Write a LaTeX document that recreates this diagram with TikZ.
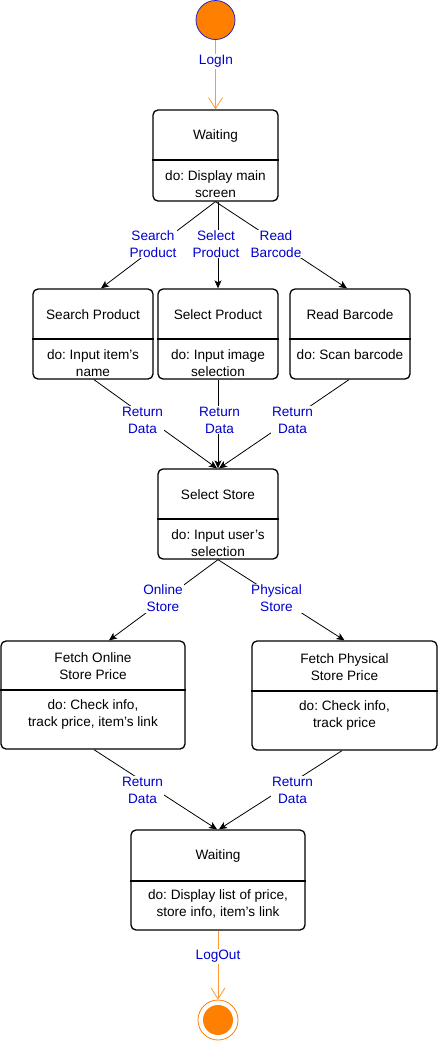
\documentclass[tikz,border=0pt]{standalone}
\usepackage{fontspec}
\setmainfont{Liberation Sans}
\usetikzlibrary{arrows.meta,calc}
\definecolor{lblue}{HTML}{0000CC}
\definecolor{orfill}{HTML}{FF8000}
\definecolor{orline}{HTML}{FF9933}
\definecolor{cblue}{HTML}{2222CC}
\newcommand{\ap}{{\char39}}
\frenchspacing
\begin{document}
\begin{tikzpicture}[x=1pt,y=-1pt,
 statebox/.style={draw,line width=1.3pt,rounded corners=5pt,inner sep=0pt,fill=white},
 divline/.style={line width=1.3pt},
 txt/.style={font=\fontsize{13.6}{17}\selectfont\frenchspacing,align=center,inner sep=0pt},
 lbl/.style={txt,text=lblue,fill=white,inner sep=1pt},
 conn/.style={draw,line width=0.8pt,-{Stealth[length=8pt,width=7pt,inset=2pt]}},
 oconn/.style={draw=orline,line width=0.8pt,-{Straight Barb[length=11pt,width=14pt]}},
]
\useasboundingbox (0,0) rectangle (438,1042);

% initial and final states
\node[circle,draw=cblue,fill=orfill,line width=0.8pt,minimum size=39pt,inner sep=0pt] (start) at (215.5,20) {};
\node[circle,draw=orfill,line width=0.8pt,minimum size=40pt,inner sep=0pt] (endc) at (218,1020) {};
\node[circle,fill=orfill,minimum size=30pt,inner sep=0pt] (endin) at (218,1020) {};

% state boxes
\node[statebox,minimum width=125pt,minimum height=91pt] (w1) at (215.5,155.5) {};
\draw[divline] (w1.west |- 0,160) -- (w1.east |- 0,160);
\node[txt] (w1t) at (215.5,135.5) {Waiting};
\node[txt] (w1b) at (215.5,184) {do: Display main\\screen};

\node[statebox,minimum width=120pt,minimum height=90pt] (sp) at (93,334) {};
\draw[divline] (sp.west |- 0,339) -- (sp.east |- 0,339);
\node[txt] (spt) at (93,314.5) {Search Product};
\node[txt] (spb) at (93,363) {do: Input item\ap s\\name};

\node[statebox,minimum width=120pt,minimum height=90pt] (sel) at (218,334) {};
\draw[divline] (sel.west |- 0,339) -- (sel.east |- 0,339);
\node[txt] (selt) at (218,314.5) {Select Product};
\node[txt] (selb) at (218,363) {do: Input image\\selection};

\node[statebox,minimum width=120pt,minimum height=90pt] (rb) at (350,334) {};
\draw[divline] (rb.west |- 0,339) -- (rb.east |- 0,339);
\node[txt] (rbt) at (350,314.5) {Read Barcode};
\node[txt] (rbb) at (350,354.5) {do: Scan barcode};

\node[statebox,minimum width=120pt,minimum height=90pt] (ss) at (218,514) {};
\draw[divline] (ss.west |- 0,519) -- (ss.east |- 0,519);
\node[txt] (sst) at (218,494.5) {Select Store};
\node[txt] (ssb) at (218,543) {do: Input user\ap s\\selection};

\node[statebox,minimum width=184pt,minimum height=108pt] (fo) at (93,695) {};
\draw[divline] (fo.west |- 0,690) -- (fo.east |- 0,690);
\node[txt] (fot) at (93,666) {Fetch Online\\Store Price};
\node[txt] (fob) at (93,714) {do: Check info,\\track price, item\ap s link};

\node[statebox,minimum width=185pt,minimum height=109pt] (fp) at (344.5,695.5) {};
\draw[divline] (fp.west |- 0,691) -- (fp.east |- 0,691);
\node[txt] (fpt) at (344.5,667) {Fetch Physical\\Store Price};
\node[txt] (fpb) at (344.5,715) {do: Check info,\\track price};

\node[statebox,minimum width=174pt,minimum height=100pt] (w2) at (218,880) {};
\draw[divline] (w2.west |- 0,881) -- (w2.east |- 0,881);
\node[txt] (w2t) at (218,855.5) {Waiting};
\node[txt] (w2b) at (218,904) {do: Display list of price,\\store info, item\ap s link};

% connectors
\draw[oconn] (start.south) -- (w1.north);
\draw[conn] (w1.south) -- ([xshift=8pt]sp.north);
\draw[conn] (w1.south -| sel.north) -- (sel.north);
\draw[conn] (w1.south) -- ([xshift=-3pt]rb.north);
\draw[conn] ([xshift=1pt]sp.south) -- ([xshift=-1pt]ss.north);
\draw[conn] (sel.south) -- (ss.north);
\draw[conn] ([xshift=-1pt]rb.south) -- ([xshift=1pt]ss.north);
\draw[conn] (ss.south) -- ([xshift=16pt]fo.north);
\draw[conn] (ss.south) -- (fp.north);
\draw[conn] ([xshift=1pt]fo.south) -- ([xshift=-1pt]w2.north);
\draw[conn] ([xshift=-2.5pt]fp.south) -- ([xshift=1pt]w2.north);
\draw[oconn] (w2.south) -- (endc.north);

% labels
\node[lbl] (l1) at (216,61.5) {LogIn};
\node[lbl] (l2) at (153,244) {Search\\Product};
\node[lbl] (l3) at (216,244) {Select\\Product};
\node[lbl] (l4) at (276,244) {Read\\Barcode};
\node[lbl] (l5) at (142.5,420) {Return\\Data};
\node[lbl] (l6) at (219.5,420) {Return\\Data};
\node[lbl] (l7) at (292.5,420) {Return\\Data};
\node[lbl] (l8) at (163,598) {Online\\Store};
\node[lbl] (l9) at (276.5,598) {Physical\\Store};
\node[lbl] (l10) at (142.5,790) {Return\\Data};
\node[lbl] (l11) at (292.5,790) {Return\\Data};
\node[lbl] (l12) at (218,956.5) {LogOut};
\end{tikzpicture}
\end{document}
